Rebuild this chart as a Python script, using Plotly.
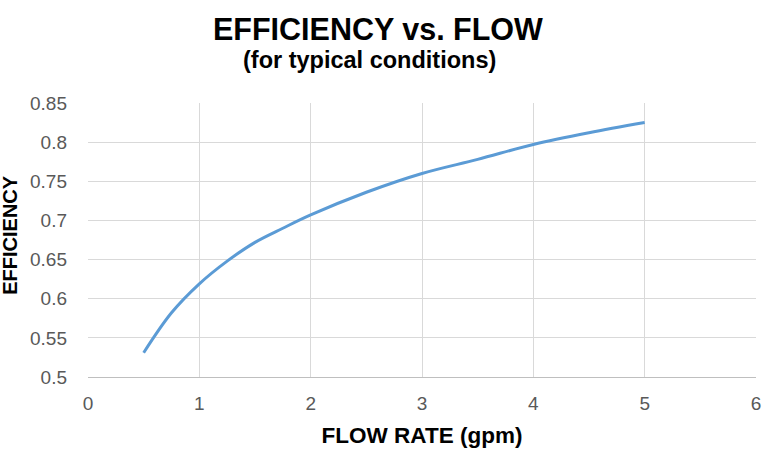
import plotly.graph_objects as go

flow_gpm = [0.5, 0.75, 1.0, 1.25, 1.5, 1.75, 2.0, 2.5, 3.0, 3.5, 4.0, 4.5, 5.0]
efficiency = [0.531, 0.582, 0.619, 0.648, 0.672, 0.690, 0.707, 0.736, 0.760, 0.778, 0.797, 0.812, 0.825]

x_ticks = [0, 1, 2, 3, 4, 5, 6]
y_ticks = [0.5, 0.55, 0.6, 0.65, 0.7, 0.75, 0.8, 0.85]
y_tick_text = ["0.5", "0.55", "0.6", "0.65", "0.7", "0.75", "0.8", "0.85"]

FONT = "Liberation Sans, Arial, sans-serif"
L, R, T, B = 88, 12, 103, 71.5
W, H = 768, 449

fig = go.Figure()
fig.add_trace(go.Scatter(
    x=flow_gpm, y=efficiency, mode="lines",
    line=dict(color="#5B9BD5", width=3, shape="spline"),
    showlegend=False, hoverinfo="x+y",
))

fig.update_layout(
    width=W, height=H,
    margin=dict(l=L, r=R, t=T, b=B, autoexpand=False),
    paper_bgcolor="white", plot_bgcolor="white",
    font=dict(family=FONT, color="#595959", size=16),
    xaxis=dict(
        range=[0, 6], tickvals=x_ticks, showgrid=True, gridcolor="#D9D9D9", gridwidth=1,
        zeroline=False, showline=True, linecolor="#BFBFBF", linewidth=1, automargin=False,
        ticks="", ticklabelstandoff=9, tickfont=dict(size=19, color="#595959"),
        title=dict(text="<b>FLOW RATE (gpm)</b>", font=dict(size=22.5, color="#000000"), standoff=14),
    ),
    yaxis=dict(
        range=[0.5, 0.85], tickvals=y_ticks, ticktext=y_tick_text,
        showgrid=True, gridcolor="#D9D9D9", gridwidth=1, automargin=False,
        zeroline=False, showline=False, ticks="", ticklabelstandoff=20,
        tickfont=dict(size=19, color="#595959"),
    ),
)

# titles placed by pixel position (converted to paper coordinates)
pw, ph = W - L - R, H - T - B
def px_to_paper(xp, yp):
    return (xp - L) / pw, ((H - yp) - B) / ph

tx, ty = px_to_paper(378, 29)
sx, sy = px_to_paper(369, 60)
yx, yy = px_to_paper(10, 235)
fig.add_annotation(text="<b>EFFICIENCY vs. FLOW</b>", x=tx, y=ty, xref="paper", yref="paper",
                   xanchor="center", yanchor="middle", showarrow=False,
                   font=dict(size=30.5, color="#000000", family=FONT))
fig.add_annotation(text="<b>(for typical conditions)</b>", x=sx, y=sy, xref="paper", yref="paper",
                   xanchor="center", yanchor="middle", showarrow=False,
                   font=dict(size=23.5, color="#000000", family=FONT))
fig.add_annotation(text="<b>EFFICIENCY</b>", x=yx, y=yy, xref="paper", yref="paper",
                   xanchor="center", yanchor="middle", showarrow=False, textangle=-90,
                   font=dict(size=20, color="#000000", family=FONT))

fig.write_html("out.html")
